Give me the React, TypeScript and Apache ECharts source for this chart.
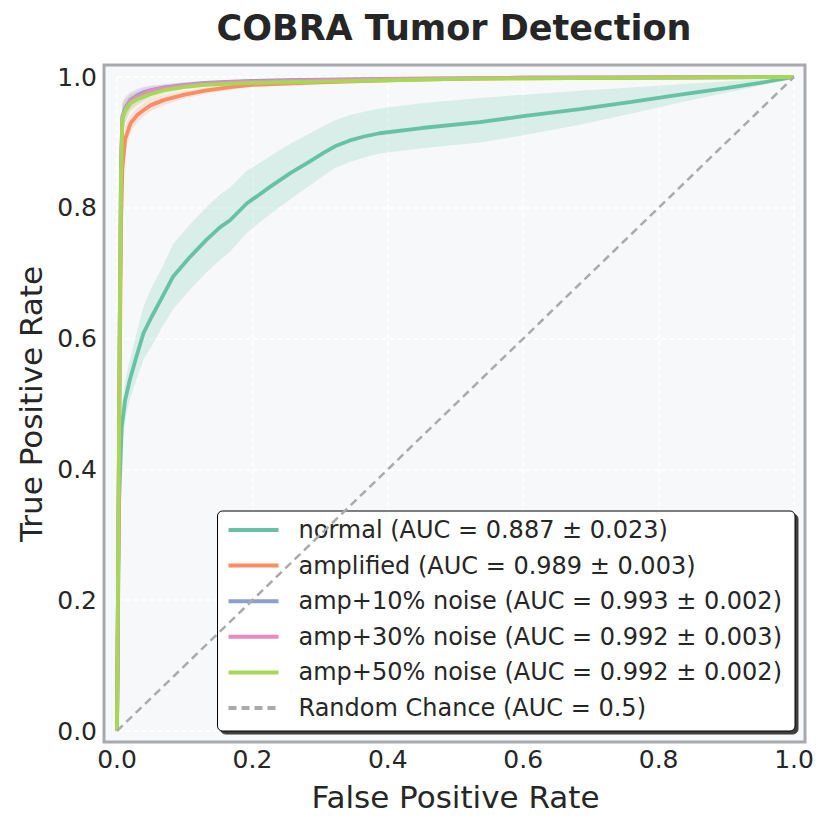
import React, { useEffect, useRef } from "react";
import * as echarts from "echarts";

const FONT = "DejaVu Sans";
const TEXT = "#262626";

const colors = ["#66c2a5", "#fc8d62", "#8da0cb", "#e78ac3", "#a6d854"];
const seriesNames = [
  "normal (AUC = 0.887 ± 0.023)",
  "amplified (AUC = 0.989 ± 0.003)",
  "amp+10% noise (AUC = 0.993 ± 0.002)",
  "amp+30% noise (AUC = 0.992 ± 0.003)",
  "amp+50% noise (AUC = 0.992 ± 0.002)",
];
const chanceName = "Random Chance (AUC = 0.5)";

// normal model
const normalX = [0, 0.003, 0.007, 0.012, 0.019, 0.028, 0.039, 0.051, 0.065, 0.083, 0.108, 0.132, 0.152, 0.167, 0.192, 0.21, 0.226, 0.256, 0.285, 0.305, 0.322, 0.344, 0.365, 0.388, 0.45, 0.536, 0.6, 0.684, 0.76, 0.832, 0.9, 0.95, 1.0];
const normalY = [0, 0.35, 0.465, 0.506, 0.537, 0.57, 0.608, 0.633, 0.66, 0.695, 0.725, 0.751, 0.77, 0.781, 0.807, 0.82, 0.832, 0.853, 0.871, 0.884, 0.894, 0.903, 0.909, 0.914, 0.922, 0.931, 0.94, 0.951, 0.962, 0.973, 0.983, 0.991, 1.0];
const normalUpper = [0, 0.38, 0.495, 0.536, 0.567, 0.605, 0.648, 0.678, 0.705, 0.745, 0.775, 0.801, 0.82, 0.831, 0.857, 0.868, 0.879, 0.898, 0.914, 0.925, 0.934, 0.942, 0.947, 0.952, 0.96, 0.968, 0.973, 0.979, 0.984, 0.989, 0.993, 0.996, 1.0];
const normalLower = [0, 0.31, 0.435, 0.476, 0.507, 0.535, 0.568, 0.588, 0.615, 0.645, 0.675, 0.701, 0.72, 0.733, 0.762, 0.777, 0.79, 0.813, 0.834, 0.849, 0.861, 0.87, 0.877, 0.883, 0.891, 0.9, 0.911, 0.927, 0.944, 0.961, 0.976, 0.987, 1.0];

// shared FPR grid for amplified models
const ampX = [0, 0.002, 0.004, 0.006, 0.008, 0.012, 0.02, 0.03, 0.04, 0.05, 0.07, 0.1, 0.13, 0.17, 0.2, 0.25, 0.3, 0.4, 0.5, 0.6, 0.8, 1.0];

const amplifiedY = [0, 0.28, 0.55, 0.78, 0.86, 0.905, 0.929, 0.942, 0.95, 0.957, 0.965, 0.973, 0.979, 0.985, 0.988, 0.99, 0.992, 0.995, 0.997, 0.998, 0.999, 1.0];
const amplifiedUpper = [0, 0.31, 0.6, 0.82, 0.885, 0.925, 0.942, 0.953, 0.96, 0.966, 0.973, 0.979, 0.984, 0.989, 0.991, 0.993, 0.994, 0.996, 0.998, 0.999, 1.0, 1.0];
const amplifiedLower = [0, 0.25, 0.5, 0.74, 0.835, 0.885, 0.916, 0.931, 0.94, 0.948, 0.957, 0.967, 0.974, 0.981, 0.985, 0.987, 0.99, 0.994, 0.996, 0.997, 0.998, 1.0];

const noise10Y = [0, 0.3, 0.62, 0.87, 0.94, 0.952, 0.965, 0.972, 0.977, 0.98, 0.984, 0.988, 0.991, 0.993, 0.994, 0.995, 0.996, 0.997, 0.998, 0.999, 0.9995, 1.0];
const noise10Upper = [0, 0.33, 0.66, 0.9, 0.958, 0.966, 0.975, 0.98, 0.984, 0.986, 0.989, 0.992, 0.994, 0.995, 0.996, 0.997, 0.998, 0.999, 0.999, 1.0, 1.0, 1.0];
const noise10Lower = [0, 0.27, 0.58, 0.84, 0.922, 0.938, 0.955, 0.964, 0.97, 0.974, 0.979, 0.984, 0.988, 0.991, 0.992, 0.993, 0.994, 0.995, 0.997, 0.998, 0.999, 1.0];

const noise30Y = [0, 0.3, 0.61, 0.86, 0.938, 0.95, 0.963, 0.97, 0.975, 0.979, 0.983, 0.987, 0.99, 0.992, 0.993, 0.994, 0.995, 0.997, 0.998, 0.999, 0.9995, 1.0];
const noise30Upper = [0, 0.34, 0.66, 0.9, 0.962, 0.97, 0.977, 0.982, 0.985, 0.987, 0.989, 0.992, 0.994, 0.995, 0.996, 0.997, 0.998, 0.999, 0.999, 1.0, 1.0, 1.0];
const noise30Lower = [0, 0.26, 0.56, 0.82, 0.914, 0.93, 0.949, 0.958, 0.965, 0.971, 0.977, 0.982, 0.986, 0.989, 0.99, 0.991, 0.992, 0.995, 0.997, 0.998, 0.999, 1.0];

const noise50Y = [0, 0.3, 0.6, 0.85, 0.937, 0.948, 0.96, 0.966, 0.97, 0.974, 0.98, 0.985, 0.988, 0.99, 0.991, 0.992, 0.993, 0.995, 0.997, 0.998, 0.999, 1.0];
const noise50Upper = [0, 0.33, 0.65, 0.89, 0.96, 0.966, 0.972, 0.976, 0.979, 0.982, 0.986, 0.989, 0.991, 0.993, 0.994, 0.995, 0.996, 0.997, 0.998, 0.999, 1.0, 1.0];
const noise50Lower = [0, 0.27, 0.55, 0.81, 0.914, 0.93, 0.948, 0.956, 0.961, 0.966, 0.974, 0.981, 0.985, 0.987, 0.988, 0.989, 0.99, 0.993, 0.996, 0.997, 0.998, 1.0];

const chanceX = [0, 1];
const chanceY = [0, 1];

const models = [
  { x: normalX, y: normalY, up: normalUpper, lo: normalLower },
  { x: ampX, y: amplifiedY, up: amplifiedUpper, lo: amplifiedLower },
  { x: ampX, y: noise10Y, up: noise10Upper, lo: noise10Lower },
  { x: ampX, y: noise30Y, up: noise30Upper, lo: noise30Lower },
  { x: ampX, y: noise50Y, up: noise50Upper, lo: noise50Lower },
];

function hexA(hex: string, a: number) {
  const r = parseInt(hex.slice(1, 3), 16);
  const g = parseInt(hex.slice(3, 5), 16);
  const b = parseInt(hex.slice(5, 7), 16);
  return `rgba(${r},${g},${b},${a})`;
}

export default function App() {
  const ref = useRef<HTMLDivElement>(null);
  useEffect(() => {
    if (!ref.current) return;
    const chart = echarts.init(ref.current, null, { renderer: "svg" });

    const bandSeries = models.map((m, k) => ({
      type: "custom",
      name: "band" + k,
      silent: true,
      z: 1,
      data: m.x.map((x, i) => [x, m.up[i], m.lo[i]]),
      renderItem: (params: any, api: any) => {
        if (params.dataIndex !== 0) return null;
        const pts: number[][] = [];
        for (let i = 0; i < m.x.length; i++) pts.push(api.coord([m.x[i], m.up[i]]));
        for (let i = m.x.length - 1; i >= 0; i--) pts.push(api.coord([m.x[i], m.lo[i]]));
        return {
          type: "polygon",
          shape: { points: pts },
          style: { fill: hexA(colors[k], 0.2), stroke: "none" },
        };
      },
    }));

    const lineSeries = models.map((m, k) => ({
      type: "line",
      name: seriesNames[k],
      symbol: "none",
      z: 3,
      data: m.x.map((x, i) => [x, m.y[i]]),
      lineStyle: { color: colors[k], width: 3.8 },
      itemStyle: { color: colors[k] },
    }));

    const chanceSeries = {
      type: "line",
      name: chanceName,
      symbol: "none",
      z: 4,
      data: chanceX.map((x, i) => [x, chanceY[i]]),
      lineStyle: { color: "#aaaaaa", width: 2.5, type: [8, 5] },
      itemStyle: { color: "#aaaaaa" },
    };

    const axisCommon = {
      type: "value",
      min: 0,
      max: 1,
      interval: 0.2,
      axisLine: { show: false },
      axisTick: { show: false },
      splitLine: { show: true, lineStyle: { color: "#ffffff", width: 1.5, type: [5, 3] } },
      nameLocation: "middle",
    };

    chart.setOption({
      animation: false,
      backgroundColor: "#ffffff",
      textStyle: { fontFamily: FONT },
      title: {
        text: "COBRA Tumor Detection",
        left: 454,
        top: 10,
        padding: 0,
        textAlign: "center",
        textStyle: { fontSize: 35, fontWeight: "bold", color: TEXT, fontFamily: FONT, lineHeight: 36 },
      },
      grid: { left: 117, right: 36, top: 77, bottom: 99, containLabel: false },
      xAxis: {
        ...axisCommon,
        name: "False Positive Rate",
        nameGap: 50,
        nameTextStyle: { fontSize: 31, color: TEXT, fontFamily: FONT },
        axisLabel: {
          fontSize: 25,
          color: TEXT,
          fontFamily: FONT,
          margin: 16,
          formatter: (v: number) => v.toFixed(1),
        },
      },
      yAxis: {
        ...axisCommon,
        name: "True Positive Rate",
        nameGap: 69,
        nameTextStyle: { fontSize: 31, color: TEXT, fontFamily: FONT },
        axisLabel: {
          fontSize: 25,
          color: TEXT,
          fontFamily: FONT,
          margin: 20,
          formatter: (v: number) => v.toFixed(1),
        },
      },
      legend: {
        data: [...seriesNames, chanceName],
        orient: "vertical",
        right: 35,
        bottom: 99,
        align: "left",
        itemWidth: 50,
        itemHeight: 24,
        itemGap: 11.6,
        padding: [7, 13, 11, 9],
        backgroundColor: "#ffffff",
        borderColor: "#000000",
        borderWidth: 1,
        borderRadius: 5,
        shadowColor: "rgba(0,0,0,0.75)",
        shadowBlur: 1,
        shadowOffsetX: 3,
        shadowOffsetY: 3,
        lineStyle: { width: 4 },
        itemStyle: { opacity: 0 },
        textStyle: { fontSize: 24, lineHeight: 24, color: TEXT, fontFamily: FONT, padding: [0, 0, 0, 15] },
      },
      graphic: [
        {
          type: "rect",
          z: -10,
          silent: true,
          shape: { x: 104, y: 65, width: 701, height: 677 },
          style: { fill: "#f7f8fa", stroke: "none" },
        },
        {
          type: "rect",
          z: 100,
          silent: true,
          shape: { x: 104, y: 65, width: 701, height: 677 },
          style: { fill: "none", stroke: "#a9a9ad", lineWidth: 3 },
        },
      ],
      series: [...bandSeries, ...lineSeries, chanceSeries],
    });
    return () => chart.dispose();
  }, []);

  return (
    <div
      ref={ref}
      style={{ position: "fixed", left: 0, top: 0, width: 830, height: 830 }}
    />
  );
}
